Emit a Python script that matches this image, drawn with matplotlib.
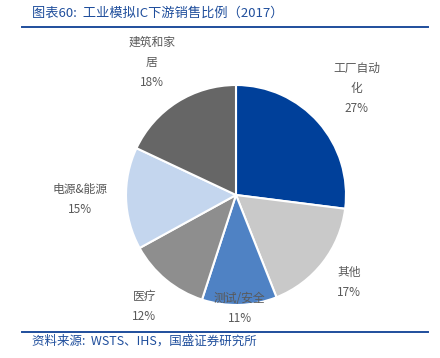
import numpy as np
import matplotlib
matplotlib.use("Agg")
import matplotlib.pyplot as plt
from matplotlib.lines import Line2D

plt.rcParams['font.family'] = ['Noto Sans CJK SC', 'DejaVu Sans']

# data
categories = ["工厂自动\n化", "其他", "测试/安全", "医疗", "电源&能源", "建筑和家\n居"]
shares = [27, 17, 11, 12, 15, 18]
colors = ["#00409A", "#C9C9C9", "#4F82C4", "#8E8E8E", "#C4D6EE", "#666666"]
# how far out each label sits (multiples of radius), like the Excel layout
label_dist = [1.46, 1.30, 1.03, 1.31, 1.42, 1.43]

W, H = 440, 358
fig = plt.figure(figsize=(W / 100, H / 100), dpi=100)

cx, cy, r = 236, 195, 110  # pie centre / radius in pixels (from top)
ax = fig.add_axes([(cx - r) / W, (H - cy - r) / H, 2 * r / W, 2 * r / H])
wedges, _ = ax.pie(shares, colors=colors, startangle=90, counterclock=False,
                   radius=1, wedgeprops=dict(edgecolor="white", linewidth=1.5))
ax.set_xlim(-1, 1)
ax.set_ylim(-1, 1)
ax.set_aspect("equal")
ax.axis("off")

for w, cat, val, d in zip(wedges, categories, shares, label_dist):
    ang = np.deg2rad((w.theta1 + w.theta2) / 2)
    x, y = d * np.cos(ang), d * np.sin(ang)
    ax.text(x, y, f"{cat}\n{val}%", ha="center", va="center", fontsize=8.5,
            color="#595959", linespacing=1.7, clip_on=False)

# title and source
blue = "#1F4E9C"
fig.text(32 / W, 1 - 13 / H, "图表60:  工业模拟IC下游销售比例（2017）", fontsize=9.5,
         color=blue, style="italic", ha="left", va="center")
fig.add_artist(Line2D([22 / W, 428 / W], [1 - 27 / H] * 2, color=blue, lw=1.4))
fig.add_artist(Line2D([22 / W, 428 / W], [1 - 332 / H] * 2, color=blue, lw=1.4))
fig.text(32 / W, 1 - 341 / H, "资料来源:  WSTS、IHS，国盛证券研究所", fontsize=9,
         color=blue, style="italic", ha="left", va="center")

fig.savefig("out.png", dpi=100)
